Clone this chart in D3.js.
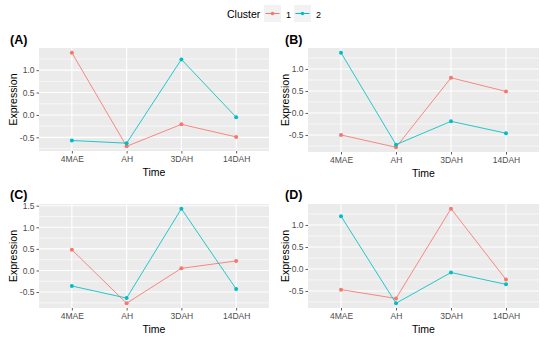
<!DOCTYPE html>
<html>
<head>
<meta charset="utf-8">
<script src="https://cdn.jsdelivr.net/npm/d3@7"></script>
<style>
  body { margin: 0; background: #fff; }
  svg { display: block; font-family: "Liberation Sans", Arial, sans-serif; }
</style>
</head>
<body>
<div id="chart"></div>
<script>
// time points shared by every panel
var timePoints = ["4MAE", "AH", "3DAH", "14DAH"];
var clusters = ["1", "2"];
var clusterColors = ["#F8766D", "#00BFC4"];

// expression per panel, cluster 1 then cluster 2
var panelA1 = [1.39, -0.70, -0.21, -0.49];
var panelA2 = [-0.57, -0.63, 1.24, -0.05];
var panelB1 = [-0.50, -0.78, 0.80, 0.49];
var panelB2 = [1.37, -0.72, -0.19, -0.46];
var panelC1 = [0.48, -0.76, 0.05, 0.22];
var panelC2 = [-0.36, -0.64, 1.43, -0.43];
var panelD1 = [-0.47, -0.67, 1.37, -0.24];
var panelD2 = [1.20, -0.78, -0.08, -0.35];

var ticksABD = [-0.5, 0, 0.5, 1.0];
var ticksC = [-0.5, 0, 0.5, 1.0, 1.5];

var panels = [
  {name: "(A)", s1: panelA1, s2: panelA2, ticks: ticksABD, left: 39, right: 269, top: 48, bottom: 151, ox: 0, oy: 0, yl: 16.5},
  {name: "(B)", s1: panelB1, s2: panelB2, ticks: ticksABD, left: 308, right: 539, top: 48, bottom: 152, ox: 275, oy: 0, yl: 288.5},
  {name: "(C)", s1: panelC1, s2: panelC2, ticks: ticksC, left: 39, right: 269, top: 204, bottom: 308, ox: 0, oy: 155, yl: 16.5},
  {name: "(D)", s1: panelD1, s2: panelD2, ticks: ticksABD, left: 308, right: 539, top: 204, bottom: 308, ox: 275, oy: 155, yl: 288.5}
];

var W = 550, H = 338;
var svg = d3.select("#chart").append("svg").attr("width", W).attr("height", H);

/******legend******/
var leg = svg.append("g");
leg.append("text").attr("x", 227).attr("y", 18).attr("font-size", 10.5).attr("fill", "#000").text("Cluster");
var keyX = [264, 294];
clusters.forEach(function (c, i) {
  var g = leg.append("g").attr("transform", "translate(" + keyX[i] + ",5)");
  g.append("rect").attr("width", 17).attr("height", 17).attr("fill", "#F2F2F2");
  g.append("line").attr("x1", 1.5).attr("x2", 15.5).attr("y1", 8.5).attr("y2", 8.5)
    .attr("stroke", clusterColors[i]).attr("stroke-width", 1);
  g.append("circle").attr("cx", 8.5).attr("cy", 8.5).attr("r", 1.8).attr("fill", clusterColors[i]);
  g.append("text").attr("x", 22).attr("y", 13).attr("font-size", 9).attr("fill", "#000").text(c);
});

function drawPanel(p) {
  var g = svg.append("g");
  var all = p.s1.concat(p.s2);
  var ext = d3.extent(all);
  var pad = (ext[1] - ext[0]) * 0.05;

  var x = d3.scalePoint().domain(timePoints).range([p.left, p.right]).padding(0.6);
  var y = d3.scaleLinear().domain([ext[0] - pad, ext[1] + pad]).range([p.bottom, p.top]);

  g.append("rect").attr("x", p.left).attr("y", p.top)
    .attr("width", p.right - p.left).attr("height", p.bottom - p.top).attr("fill", "#EBEBEB");

  // minor grid
  var step = 0.5;
  var minor = d3.range(Math.floor(y.domain()[0] / step) * step - step / 2, y.domain()[1], step)
    .filter(function (v) { return v > y.domain()[0] && v < y.domain()[1]; });
  g.selectAll(".minor").data(minor).enter().append("line")
    .attr("x1", p.left).attr("x2", p.right)
    .attr("y1", function (d) { return y(d); }).attr("y2", function (d) { return y(d); })
    .attr("stroke", "#fff").attr("stroke-width", 0.6);

  // major grid
  g.selectAll(".hmajor").data(p.ticks).enter().append("line")
    .attr("x1", p.left).attr("x2", p.right)
    .attr("y1", function (d) { return y(d); }).attr("y2", function (d) { return y(d); })
    .attr("stroke", "#fff").attr("stroke-width", 1.1);
  g.selectAll(".vmajor").data(timePoints).enter().append("line")
    .attr("y1", p.top).attr("y2", p.bottom)
    .attr("x1", function (d) { return x(d); }).attr("x2", function (d) { return x(d); })
    .attr("stroke", "#fff").attr("stroke-width", 1.1);

  // axes
  var yAxis = g.append("g").attr("transform", "translate(" + p.left + ",0)")
    .call(d3.axisLeft(y).tickValues(p.ticks).tickSize(2.5).tickPadding(2)
      .tickFormat(function (d) { return d3.format(".1f")(d).replace("\u2212", "-"); }));
  var xAxis = g.append("g").attr("transform", "translate(0," + p.bottom + ")")
    .call(d3.axisBottom(x).tickSize(2.5).tickPadding(2));
  [xAxis, yAxis].forEach(function (a) {
    a.select(".domain").remove();
    a.selectAll(".tick line").attr("stroke", "#333").attr("stroke-width", 0.8);
    a.selectAll(".tick text").attr("fill", "#4D4D4D").attr("font-size", 8.5)
      .attr("font-family", "Liberation Sans, Arial, sans-serif");
  });

  // series
  [p.s1, p.s2].forEach(function (s, i) {
    var pts = timePoints.map(function (t, j) { return [x(t), y(s[j])]; });
    g.append("path").attr("d", d3.line()(pts)).attr("fill", "none")
      .attr("stroke", clusterColors[i]).attr("stroke-width", 1).attr("opacity", 0.85);
    g.selectAll(".pt" + i).data(pts).enter().append("circle")
      .attr("cx", function (d) { return d[0]; }).attr("cy", function (d) { return d[1]; })
      .attr("r", 2).attr("fill", clusterColors[i]);
  });

  // titles
  g.append("text").attr("x", p.ox + 10).attr("y", p.oy + 44).attr("font-size", 12.5)
    .attr("font-weight", "bold").attr("fill", "#000").text(p.name);
  g.append("text").attr("x", (p.left + p.right) / 2).attr("y", p.bottom + 25)
    .attr("text-anchor", "middle").attr("font-size", 10.5).attr("fill", "#000").text("Time");
  var cy = (p.top + p.bottom) / 2;
  g.append("text").attr("transform", "translate(" + p.yl + "," + cy + ") rotate(-90)")
    .attr("text-anchor", "middle").attr("font-size", 10.5).attr("fill", "#000").text("Expression");
}

panels.forEach(drawPanel);
</script>
</body>
</html>
